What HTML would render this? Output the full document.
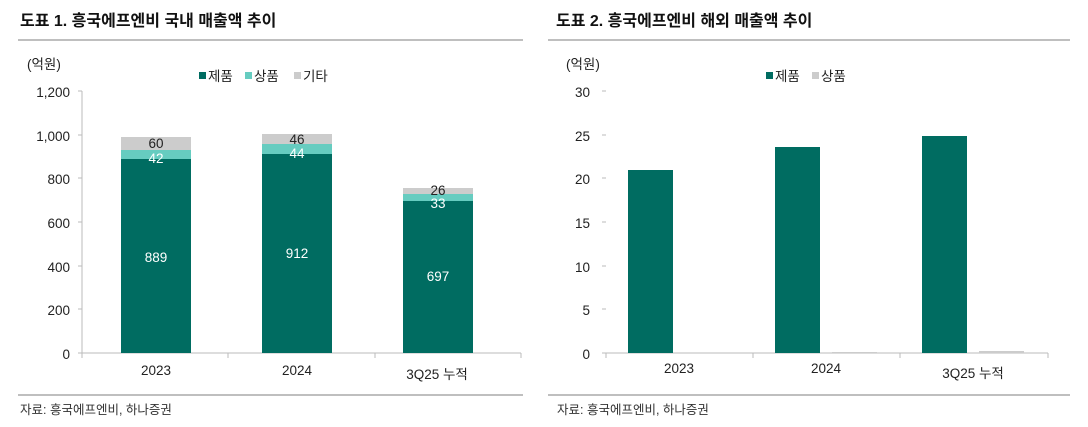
<!DOCTYPE html>
<html><head><meta charset="utf-8"><style>
body{margin:0;background:#fff;}
svg{display:block;font-family:"Liberation Sans","Noto Sans CJK KR",sans-serif;}
</style></head><body>
<svg width="1088" height="427" viewBox="0 0 1088 427">
<rect width="1088" height="427" fill="#fff"/>
<!-- titles -->
<text x="20" y="26" font-size="16" font-weight="bold" fill="#111">도표 1. 흥국에프엔비 국내 매출액 추이</text>
<text x="556" y="26" font-size="16" font-weight="bold" fill="#111">도표 2. 흥국에프엔비 해외 매출액 추이</text>
<line x1="18" y1="40" x2="523" y2="40" stroke="#999" stroke-width="1.3"/>
<line x1="548" y1="40" x2="1070" y2="40" stroke="#999" stroke-width="1.3"/>
<line x1="18" y1="395" x2="523" y2="395" stroke="#999" stroke-width="1.3"/>
<line x1="548" y1="395" x2="1070" y2="395" stroke="#999" stroke-width="1.3"/>
<text x="20" y="414" font-size="12.5" fill="#333">자료: 흥국에프엔비, 하나증권</text>
<text x="557" y="414" font-size="12.5" fill="#333">자료: 흥국에프엔비, 하나증권</text>

<!-- LEFT CHART -->
<g font-size="13.5" fill="#222">
<text x="27" y="69">(억원)</text>
<rect x="199" y="72" width="7" height="7" fill="#006c61"/><text x="208" y="81">제품</text>
<rect x="245" y="72" width="7" height="7" fill="#66ccc0"/><text x="254" y="81">상품</text>
<rect x="294" y="72" width="7" height="7" fill="#cccccc"/><text x="303" y="81">기타</text>
<g text-anchor="end">
<text x="70" y="97">1,200</text><text x="70" y="141">1,000</text><text x="70" y="184">800</text>
<text x="70" y="228">600</text><text x="70" y="272">400</text><text x="70" y="315">200</text><text x="70" y="359">0</text>
</g>
</g>
<g stroke="#bbb" stroke-width="1">
<line x1="82" y1="91" x2="82" y2="353"/>
<line x1="78" y1="91" x2="82" y2="91"/><line x1="78" y1="135" x2="82" y2="135"/><line x1="78" y1="178" x2="82" y2="178"/>
<line x1="78" y1="222" x2="82" y2="222"/><line x1="78" y1="266" x2="82" y2="266"/><line x1="78" y1="309" x2="82" y2="309"/>
<line x1="78" y1="353" x2="521" y2="353"/>
<line x1="82" y1="353" x2="82" y2="358"/><line x1="228" y1="353" x2="228" y2="358"/><line x1="375" y1="353" x2="375" y2="358"/><line x1="521" y1="353" x2="521" y2="358"/>
</g>
<rect x="121" y="159" width="70" height="194" fill="#006c61"/>
<rect x="121" y="150" width="70" height="9" fill="#66ccc0"/>
<rect x="121" y="137" width="70" height="13" fill="#cccccc"/>
<rect x="262" y="154" width="70" height="199" fill="#006c61"/>
<rect x="262" y="144" width="70" height="10" fill="#66ccc0"/>
<rect x="262" y="134" width="70" height="10" fill="#cccccc"/>
<rect x="403" y="201" width="70" height="152" fill="#006c61"/>
<rect x="403" y="194" width="70" height="7" fill="#66ccc0"/>
<rect x="403" y="188" width="70" height="6" fill="#cccccc"/>
<g font-size="13.5" text-anchor="middle">
<text x="156" y="148" fill="#222">60</text><text x="156" y="163" fill="#fff">42</text><text x="156" y="262" fill="#fff">889</text>
<text x="297" y="144" fill="#222">46</text><text x="297" y="158" fill="#fff">44</text><text x="297" y="258" fill="#fff">912</text>
<text x="438" y="195" fill="#222">26</text><text x="438" y="208" fill="#fff">33</text><text x="438" y="281" fill="#fff">697</text>
<text x="156" y="375" fill="#222">2023</text><text x="297" y="375" fill="#222">2024</text><text x="437" y="379" fill="#222">3Q25 누적</text>
</g>

<!-- RIGHT CHART -->
<g font-size="13.5" fill="#222">
<text x="566" y="69">(억원)</text>
<rect x="766" y="72" width="7" height="7" fill="#006c61"/><text x="775" y="81">제품</text>
<rect x="812" y="72" width="7" height="7" fill="#cccccc"/><text x="821" y="81">상품</text>
<g text-anchor="end">
<text x="590" y="97">30</text><text x="590" y="141">25</text><text x="590" y="184">20</text>
<text x="590" y="228">15</text><text x="590" y="272">10</text><text x="590" y="315">5</text><text x="590" y="359">0</text>
</g>
</g>
<g stroke="#bbb" stroke-width="1">
<line x1="602" y1="91" x2="606" y2="91"/><line x1="602" y1="135" x2="606" y2="135"/><line x1="602" y1="178" x2="606" y2="178"/>
<line x1="602" y1="222" x2="606" y2="222"/><line x1="602" y1="266" x2="606" y2="266"/><line x1="602" y1="309" x2="606" y2="309"/>
<line x1="602" y1="353" x2="1048" y2="353"/>
<line x1="606" y1="353" x2="606" y2="358"/><line x1="753" y1="353" x2="753" y2="358"/><line x1="900" y1="353" x2="900" y2="358"/><line x1="1048" y1="353" x2="1048" y2="358"/>
</g>
<rect x="628" y="170" width="45" height="183" fill="#006c61"/>
<rect x="775" y="147" width="45" height="206" fill="#006c61"/>
<rect x="832" y="352" width="45" height="1" fill="#cccccc"/>
<rect x="922" y="136" width="45" height="217" fill="#006c61"/>
<rect x="979" y="351" width="45" height="2" fill="#cccccc"/>
<g font-size="13.5" text-anchor="middle" fill="#222">
<text x="679" y="373">2023</text><text x="826" y="373">2024</text><text x="973" y="378">3Q25 누적</text>
</g>
</svg>
</body></html>
